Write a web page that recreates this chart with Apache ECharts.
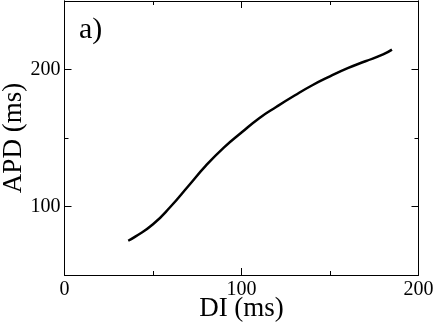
<!DOCTYPE html>
<html>
<head>
<meta charset="UTF-8">
<title>APD restitution</title>
<script src="https://cdn.jsdelivr.net/npm/echarts@6/dist/echarts.min.js"></script>
<style>
html, body { margin: 0; padding: 0; background: #fff; }
#chart { width: 436px; height: 323px; }
</style>
</head>
<body>
<div id="chart"></div>
<script type="text/javascript">
// DI (ms) vs APD (ms)
var di  = [36, 40, 50, 60, 70, 80, 90, 100, 110, 120, 130, 140, 150, 160, 170, 180, 185];
var apd = [75, 78, 87, 100, 115, 130, 143, 154, 164.5, 173, 181, 188.5, 195, 201, 206, 211, 214.5];
var xTicks = [0, 100, 200];
var yTicks = [100, 200];
var yMinor = [150];

var font = 'Liberation Serif';
var pts = di.map(function (d, i) { return [d, apd[i]]; });

function axis(pos, labels, tickLen) {
	return {
		type: 'value', position: pos,
		nameMoveOverlap: false,
		axisLine: { show: true, onZero: false, lineStyle: { color: '#000', width: 1 } },
		axisTick: { show: true, inside: true, length: tickLen, lineStyle: { color: '#000' } },
		splitLine: { show: false },
		axisLabel: { show: labels, color: '#000', fontFamily: font, fontSize: 20 }
	};
}

// x axes: bottom (labelled) and top mirror
var xBottom = axis('bottom', true, 7);
xBottom.min = 0; xBottom.max = 200; xBottom.interval = 100;
xBottom.minorTick = { show: true, splitNumber: 2, length: 4, lineStyle: { color: '#000' } };
xBottom.axisLabel.margin = 5;
xBottom.name = 'DI (ms)';
xBottom.nameLocation = 'middle';
xBottom.nameGap = 20;
xBottom.nameTextStyle = { color: '#000', fontFamily: font, fontSize: 27 };

var xTop = axis('top', false, 7);
xTop.min = 0; xTop.max = 200; xTop.interval = 100;
xTop.minorTick = { show: true, splitNumber: 2, length: 4, lineStyle: { color: '#000' } };

// y axes: major ticks at 100/200, minor at 150, on left and right
function yAxisOf(pos, labels, values, len) {
	var a = axis(pos, labels, len);
	a.min = 50; a.max = 250;
	a.axisTick.customValues = values;
	a.axisLabel.customValues = values;
	return a;
}
var yLeft = yAxisOf('left', true, yTicks, 7);
yLeft.axisLabel.margin = 4;
yLeft.name = 'APD (ms)';
yLeft.nameLocation = 'middle';
yLeft.nameGap = 37;
yLeft.nameTextStyle = { color: '#000', fontFamily: font, fontSize: 27 };
var yLeftMinor = yAxisOf('left', false, yMinor, 4);
var yRight = yAxisOf('right', false, yTicks, 7);
var yRightMinor = yAxisOf('right', false, yMinor, 4);

var chart = echarts.init(document.getElementById('chart'));
chart.setOption({
	animation: false,
	grid: { left: 64.5, right: 17.5, top: 1, bottom: 48, outerBoundsMode: 'none', containLabel: false },
	xAxis: [xBottom, xTop],
	yAxis: [yLeft, yLeftMinor, yRight, yRightMinor],
	graphic: [{
		type: 'text', left: 79, top: 15,
		style: { text: 'a)', fill: '#000', font: '30px "Liberation Serif"' }
	}],
	series: [{
		type: 'line', xAxisIndex: 0, yAxisIndex: 0,
		data: pts, smooth: true, showSymbol: false,
		lineStyle: { color: '#000', width: 2.5 }
	}]
});
</script>
</body>
</html>
